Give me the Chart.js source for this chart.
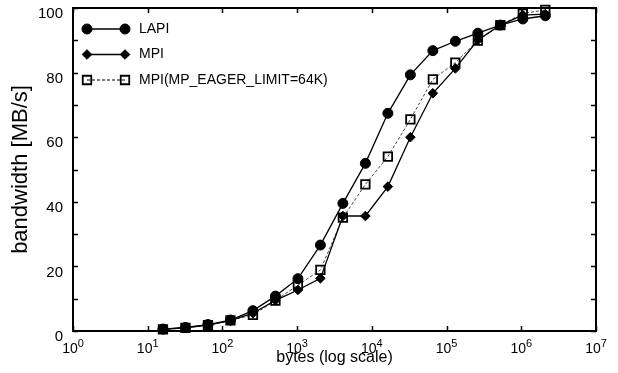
<!DOCTYPE html>
<html>
<head>
<meta charset="utf-8">
<script src="https://cdn.jsdelivr.net/npm/chart.js@4/dist/chart.umd.min.js"></script>
<style>
html,body{margin:0;padding:0;background:#fff;}
#c{display:block;}
</style>
</head>
<body>
<canvas id="c" width="618" height="373"></canvas>
<script>
// ---- data ----
const messageSizes = [16,32,64,128,256,512,1024,2048,4096,8192,16384,32768,65536,131072,262144,524288,1048576,2097152];
const lapiBandwidth  = [0.6,1.1,2.0,3.4,6.3,10.8,16.2,26.6,39.5,51.9,67.4,79.3,86.8,89.7,92.2,94.7,96.6,97.6];
const mpiBandwidth   = [0.5,1.0,1.8,3.2,5.5,9.5,12.7,16.3,35.6,35.6,44.7,60.0,73.6,81.3,90.1,94.7,97.8,98.1];
const eagerBandwidth = [0.5,1.0,1.8,3.3,5.0,9.4,14.2,18.9,35.1,45.4,54.0,65.5,77.9,83.1,89.9,94.7,98.3,99.4];
const seriesNames = ['LAPI','MPI','MPI(MP_EAGER_LIMIT=64K)'];
const xTickExponents = [0,1,2,3,4,5,6,7];
const yTickMarks = [0,10,20,30,40,50,60,70,80,90,100];
const yTickLabels = [0,20,40,60,80,100];
const xTitle = 'bytes (log scale)';
const yTitle = 'bandwidth [MB/s]';

const FONT = "'Liberation Sans', Arial, Helvetica, sans-serif";
const pts = arr => messageSizes.map((s,i)=>({x:s,y:arr[i]}));

const framePlugin = {
  id:'frame',
  beforeDatasetsDraw(chart){
    const {ctx, chartArea:a, scales:{x,y}} = chart;
    ctx.save();
    ctx.strokeStyle='#000';
    ctx.lineWidth=2;
    ctx.strokeRect(a.left,a.top,a.right-a.left,a.bottom-a.top);
    ctx.lineWidth=1.5;
    const tl=5;
    ctx.beginPath();
    xTickExponents.forEach(e=>{
      const px=Math.round(x.getPixelForValue(Math.pow(10,e)))+0.5;
      ctx.moveTo(px,a.bottom); ctx.lineTo(px,a.bottom-tl);
      ctx.moveTo(px,a.top); ctx.lineTo(px,a.top+tl);
    });
    yTickMarks.forEach(v=>{
      const py=Math.round(y.getPixelForValue(v))+0.5;
      ctx.moveTo(a.left,py); ctx.lineTo(a.left+tl,py);
      ctx.moveTo(a.right,py); ctx.lineTo(a.right-tl,py);
    });
    ctx.stroke();
    ctx.restore();
  },
  afterDraw(chart){
    const {ctx, chartArea:a, scales:{x}} = chart;
    ctx.save();
    ctx.fillStyle='#000';
    // x tick labels with superscript exponents
    xTickExponents.forEach(e=>{
      const px=x.getPixelForValue(Math.pow(10,e));
      ctx.font='14px '+FONT;
      const w1=ctx.measureText('10').width;
      ctx.font='11px '+FONT;
      const w2=ctx.measureText(String(e)).width;
      const start=px-(w1+w2)/2;
      ctx.textBaseline='alphabetic';
      ctx.textAlign='left';
      ctx.font='14px '+FONT;
      ctx.fillText('10',start,a.bottom+22);
      ctx.font='11px '+FONT;
      ctx.fillText(String(e),start+w1,a.bottom+16);
    });
    // legend
    chart.data.datasets.forEach((ds,i)=>{
      const yy=a.top+21+i*25.5;
      const x1=a.left+14, x2=a.left+52;
      ctx.save();
      ctx.strokeStyle=ds.legendLineColor||ds.borderColor;
      ctx.lineWidth=ds.borderWidth;
      ctx.setLineDash(ds.borderDash||[]);
      ctx.beginPath(); ctx.moveTo(x1,yy); ctx.lineTo(x2,yy); ctx.stroke();
      ctx.setLineDash([]);
      [x1,x2].forEach(px=>{
        ctx.fillStyle=ds.pointBackgroundColor;
        ctx.strokeStyle=ds.pointBorderColor;
        ctx.lineWidth=ds.pointBorderWidth;
        Chart.helpers.drawPoint(ctx,{pointStyle:ds.pointStyle,radius:ds.pointRadius,rotation:0,borderWidth:ds.pointBorderWidth},px,yy);
      });
      ctx.restore();
      ctx.fillStyle='#000';
      ctx.font='14px '+FONT;
      ctx.textAlign='left';
      ctx.textBaseline='middle';
      ctx.fillText(ds.label,a.left+66,yy);
    });
    ctx.restore();
  }
};

new Chart(document.getElementById('c'),{
  type:'line',
  data:{datasets:[
    {label:seriesNames[0],data:pts(lapiBandwidth),borderColor:'#000',borderWidth:1.3,
     pointStyle:'circle',pointRadius:5,pointBackgroundColor:'#000',pointBorderColor:'#000',pointBorderWidth:1,clip:false,tension:0},
    {label:seriesNames[1],data:pts(mpiBandwidth),borderColor:'#000',borderWidth:1.3,
     pointStyle:'rectRot',pointRadius:4.8,pointBackgroundColor:'#000',pointBorderColor:'#000',pointBorderWidth:1,clip:false,tension:0},
    {label:seriesNames[2],data:pts(eagerBandwidth),borderColor:'#444',legendLineColor:'#000',borderWidth:1,borderDash:[3,2],
     pointStyle:'rect',pointRadius:6,pointBackgroundColor:'rgba(255,255,255,0)',pointBorderColor:'#000',pointBorderWidth:1.8,clip:false,tension:0}
  ]},
  options:{
    responsive:false,animation:false,
    layout:{padding:{top:8,right:22,left:0,bottom:0}},
    plugins:{legend:{display:false},tooltip:{enabled:false}},
    scales:{
      x:{type:'logarithmic',min:1,max:1e7,
        afterBuildTicks:s=>{s.ticks=xTickExponents.map(e=>({value:Math.pow(10,e)}));},
        ticks:{display:false},
        grid:{display:false,drawTicks:false},border:{display:false},
        title:{display:true,text:xTitle,color:'#000',font:{size:16,family:FONT},padding:{top:0,bottom:6}},
        afterFit:s=>{s.height=42;s.paddingLeft=0;s.paddingRight=0;}
      },
      y:{min:0,max:100,
        afterBuildTicks:s=>{s.ticks=yTickMarks.map(v=>({value:v}));},
        ticks:{color:'#000',font:{size:15,family:FONT},padding:10,labelOffset:6,
          callback:v=>yTickLabels.includes(v)?String(v):''},
        grid:{display:false,drawTicks:false},border:{display:false},
        title:{display:true,text:yTitle,color:'#000',font:{size:22,family:FONT},padding:{top:8,bottom:0}},
        afterFit:s=>{s.width=73;s.paddingTop=0;s.paddingBottom=0;}
      }
    }
  },
  plugins:[framePlugin]
});
</script>
</body>
</html>
